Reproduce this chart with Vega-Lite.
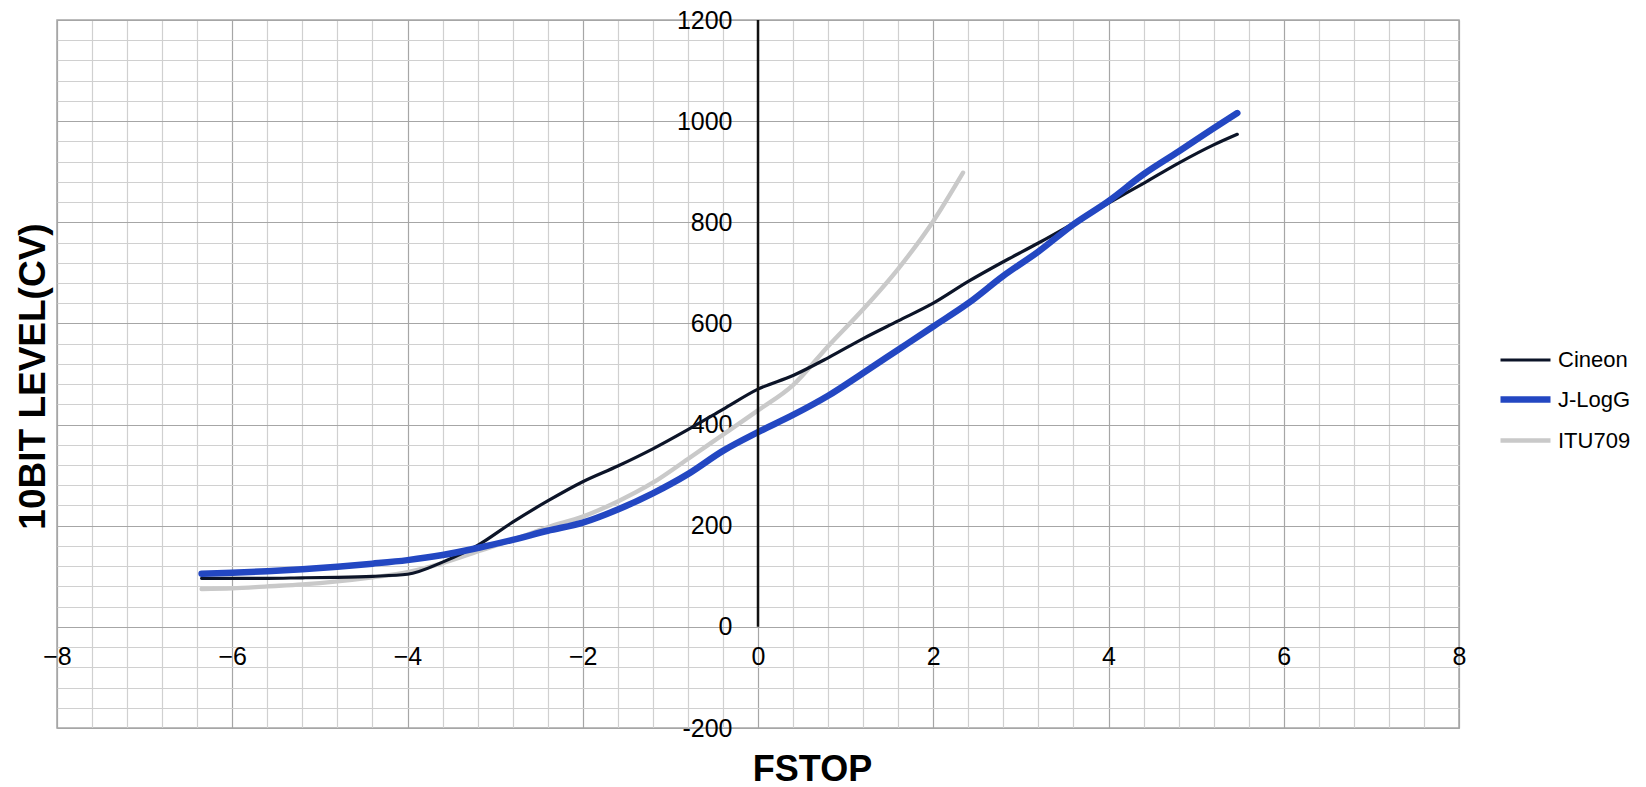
{
  "$schema": "https://vega.github.io/schema/vega-lite/v6.json",
  "width": 1402,
  "height": 708,
  "autosize": {"type": "none"},
  "padding": {"left": 57, "top": 20, "right": 187, "bottom": 59},
  "background": "white",
  "config": {
    "font": "Liberation Sans",
    "view": {"stroke": "#a6a6a6", "strokeWidth": 1.5}
  },
  "layer": [
    {
      "data": {
        "values": [
          {"series": "ITU709", "fstop": -6.35, "cv": 75},
          {"series": "ITU709", "fstop": -6.0, "cv": 76},
          {"series": "ITU709", "fstop": -5.6, "cv": 80},
          {"series": "ITU709", "fstop": -5.2, "cv": 84},
          {"series": "ITU709", "fstop": -4.8, "cv": 90},
          {"series": "ITU709", "fstop": -4.4, "cv": 98},
          {"series": "ITU709", "fstop": -4.0, "cv": 108},
          {"series": "ITU709", "fstop": -3.6, "cv": 126},
          {"series": "ITU709", "fstop": -3.2, "cv": 149},
          {"series": "ITU709", "fstop": -2.8, "cv": 172},
          {"series": "ITU709", "fstop": -2.4, "cv": 197},
          {"series": "ITU709", "fstop": -2.0, "cv": 218},
          {"series": "ITU709", "fstop": -1.6, "cv": 248},
          {"series": "ITU709", "fstop": -1.2, "cv": 285},
          {"series": "ITU709", "fstop": -0.8, "cv": 332},
          {"series": "ITU709", "fstop": -0.4, "cv": 380},
          {"series": "ITU709", "fstop": 0.0, "cv": 428},
          {"series": "ITU709", "fstop": 0.4, "cv": 478},
          {"series": "ITU709", "fstop": 0.8, "cv": 555},
          {"series": "ITU709", "fstop": 1.2, "cv": 628},
          {"series": "ITU709", "fstop": 1.6, "cv": 708},
          {"series": "ITU709", "fstop": 2.0, "cv": 802},
          {"series": "ITU709", "fstop": 2.34, "cv": 898},
          {"series": "Cineon", "fstop": -6.35, "cv": 96},
          {"series": "Cineon", "fstop": -6.0, "cv": 96},
          {"series": "Cineon", "fstop": -5.6, "cv": 96},
          {"series": "Cineon", "fstop": -5.2, "cv": 97},
          {"series": "Cineon", "fstop": -4.8, "cv": 98},
          {"series": "Cineon", "fstop": -4.4, "cv": 100},
          {"series": "Cineon", "fstop": -4.0, "cv": 104},
          {"series": "Cineon", "fstop": -3.6, "cv": 128},
          {"series": "Cineon", "fstop": -3.2, "cv": 161},
          {"series": "Cineon", "fstop": -2.8, "cv": 207},
          {"series": "Cineon", "fstop": -2.4, "cv": 249},
          {"series": "Cineon", "fstop": -2.0, "cv": 287},
          {"series": "Cineon", "fstop": -1.6, "cv": 318},
          {"series": "Cineon", "fstop": -1.2, "cv": 352},
          {"series": "Cineon", "fstop": -0.8, "cv": 390},
          {"series": "Cineon", "fstop": -0.4, "cv": 430},
          {"series": "Cineon", "fstop": 0.0, "cv": 470},
          {"series": "Cineon", "fstop": 0.4, "cv": 497},
          {"series": "Cineon", "fstop": 0.8, "cv": 532},
          {"series": "Cineon", "fstop": 1.2, "cv": 570},
          {"series": "Cineon", "fstop": 1.6, "cv": 605},
          {"series": "Cineon", "fstop": 2.0, "cv": 640},
          {"series": "Cineon", "fstop": 2.4, "cv": 683},
          {"series": "Cineon", "fstop": 2.8, "cv": 722},
          {"series": "Cineon", "fstop": 3.2, "cv": 759},
          {"series": "Cineon", "fstop": 3.6, "cv": 798},
          {"series": "Cineon", "fstop": 4.0, "cv": 838},
          {"series": "Cineon", "fstop": 4.4, "cv": 877},
          {"series": "Cineon", "fstop": 4.8, "cv": 917},
          {"series": "Cineon", "fstop": 5.2, "cv": 953},
          {"series": "Cineon", "fstop": 5.47, "cv": 974},
          {"series": "J-LogG", "fstop": -6.35, "cv": 105},
          {"series": "J-LogG", "fstop": -6.0, "cv": 107},
          {"series": "J-LogG", "fstop": -5.6, "cv": 110},
          {"series": "J-LogG", "fstop": -5.2, "cv": 114},
          {"series": "J-LogG", "fstop": -4.8, "cv": 119},
          {"series": "J-LogG", "fstop": -4.4, "cv": 125},
          {"series": "J-LogG", "fstop": -4.0, "cv": 132},
          {"series": "J-LogG", "fstop": -3.6, "cv": 142},
          {"series": "J-LogG", "fstop": -3.2, "cv": 156},
          {"series": "J-LogG", "fstop": -2.8, "cv": 172},
          {"series": "J-LogG", "fstop": -2.4, "cv": 190},
          {"series": "J-LogG", "fstop": -2.0, "cv": 206},
          {"series": "J-LogG", "fstop": -1.6, "cv": 232},
          {"series": "J-LogG", "fstop": -1.2, "cv": 264},
          {"series": "J-LogG", "fstop": -0.8, "cv": 302},
          {"series": "J-LogG", "fstop": -0.4, "cv": 348},
          {"series": "J-LogG", "fstop": 0.0, "cv": 385},
          {"series": "J-LogG", "fstop": 0.4, "cv": 419},
          {"series": "J-LogG", "fstop": 0.8, "cv": 457},
          {"series": "J-LogG", "fstop": 1.2, "cv": 502},
          {"series": "J-LogG", "fstop": 1.6, "cv": 548},
          {"series": "J-LogG", "fstop": 2.0, "cv": 594},
          {"series": "J-LogG", "fstop": 2.4, "cv": 640},
          {"series": "J-LogG", "fstop": 2.8, "cv": 694},
          {"series": "J-LogG", "fstop": 3.2, "cv": 742},
          {"series": "J-LogG", "fstop": 3.6, "cv": 796},
          {"series": "J-LogG", "fstop": 4.0, "cv": 842},
          {"series": "J-LogG", "fstop": 4.4, "cv": 895},
          {"series": "J-LogG", "fstop": 4.8, "cv": 940},
          {"series": "J-LogG", "fstop": 5.2, "cv": 986},
          {"series": "J-LogG", "fstop": 5.47, "cv": 1016}
        ]
      },
      "mark": {"type": "line", "interpolate": "monotone", "strokeCap": "round", "strokeJoin": "round"},
      "encoding": {
        "x": {
          "field": "fstop",
          "type": "quantitative",
          "scale": {"domain": [-8, 8], "nice": false, "zero": false},
          "axis": {
            "values": [-8, -7.6, -7.2, -6.8, -6.4, -6, -5.6, -5.2, -4.8, -4.4, -4, -3.6, -3.2, -2.8, -2.4, -2, -1.6, -1.2, -0.8, -0.4, 0, 0.4, 0.8, 1.2, 1.6, 2, 2.4, 2.8, 3.2, 3.6, 4, 4.4, 4.8, 5.2, 5.6, 6, 6.4, 6.8, 7.2, 7.6, 8],
            "tickCount": 200,
            "offset": -101,
            "domain": false,
            "ticks": false,
            "labelExpr": "abs(datum.value/2 - round(datum.value/2)) < 0.001 ? format(datum.value, 'd') : ''",
            "labelFontSize": 25,
            "labelColor": "#000000",
            "labelPadding": 17,
            "labelOverlap": false,
            "labelFlush": false,
            "grid": true,
            "gridWidth": 1.2,
            "gridColor": {"condition": {"test": "abs(datum.value/2 - round(datum.value/2)) < 0.001", "value": "#a6a6a6"}, "value": "#d0d0d0"},
            "title": "FSTOP",
            "titleFontSize": 36,
            "titleFontWeight": "bold",
            "titleColor": "#000000",
            "titleX": 755,
            "titleY": 153,
            "titleAlign": "center",
            "titleBaseline": "alphabetic"
          }
        },
        "y": {
          "field": "cv",
          "type": "quantitative",
          "scale": {"domain": [-200, 1200], "nice": false, "zero": false},
          "axis": {
            "values": [-200, -160, -120, -80, -40, 0, 40, 80, 120, 160, 200, 240, 280, 320, 360, 400, 440, 480, 520, 560, 600, 640, 680, 720, 760, 800, 840, 880, 920, 960, 1000, 1040, 1080, 1120, 1160, 1200],
            "tickCount": 200,
            "offset": -701,
            "domain": false,
            "ticks": false,
            "labelExpr": "datum.value % 200 === 0 ? replace(format(datum.value, 'd'), '−', '-') : ''",
            "labelFontSize": 25,
            "labelColor": "#000000",
            "labelPadding": 26,
            "labelOverlap": false,
            "labelFlush": false,
            "grid": true,
            "gridWidth": 1.2,
            "gridColor": {"condition": {"test": "datum.value % 200 === 0", "value": "#a6a6a6"}, "value": "#d0d0d0"},
            "title": "10BIT LEVEL(CV)",
            "titleFontSize": 37,
            "titleFontWeight": "bold",
            "titleColor": "#000000",
            "titleX": -725,
            "titleY": 356,
            "titleAlign": "center",
            "titleBaseline": "middle",
            "titleAngle": -90
          }
        },
        "color": {
          "field": "series",
          "type": "nominal",
          "scale": {"domain": ["Cineon", "J-LogG", "ITU709"], "range": ["#0c1428", "#2347c2", "#c9c9c9"]},
          "legend": {
            "orient": "none",
            "legendX": 1440,
            "legendY": 313,
            "title": null,
            "symbolType": "stroke",
            "symbolSize": 2500,
            "labelFontSize": 22,
            "labelColor": "#000000",
            "rowPadding": -6,
            "padding": 0,
            "labelOffset": 4
          }
        },
        "strokeWidth": {
          "field": "series",
          "type": "nominal",
          "scale": {"type": "ordinal", "domain": ["Cineon", "J-LogG", "ITU709"], "range": [3.2, 6.5, 4.4]},
          "legend": {
            "orient": "none",
            "legendX": 1440,
            "legendY": 313,
            "title": null,
            "symbolType": "stroke",
            "symbolSize": 2500,
            "labelFontSize": 22,
            "labelColor": "#000000",
            "rowPadding": -6,
            "padding": 0,
            "labelOffset": 4
          }
        }
      }
    },
    {
      "data": {"values": [{"fstop": 0, "cv": 0, "cv_top": 1200}]},
      "mark": {"type": "rule", "color": "#111111", "strokeWidth": 2.5},
      "encoding": {
        "x": {"field": "fstop", "type": "quantitative"},
        "y": {"field": "cv", "type": "quantitative"},
        "y2": {"field": "cv_top"}
      }
    }
  ]
}
